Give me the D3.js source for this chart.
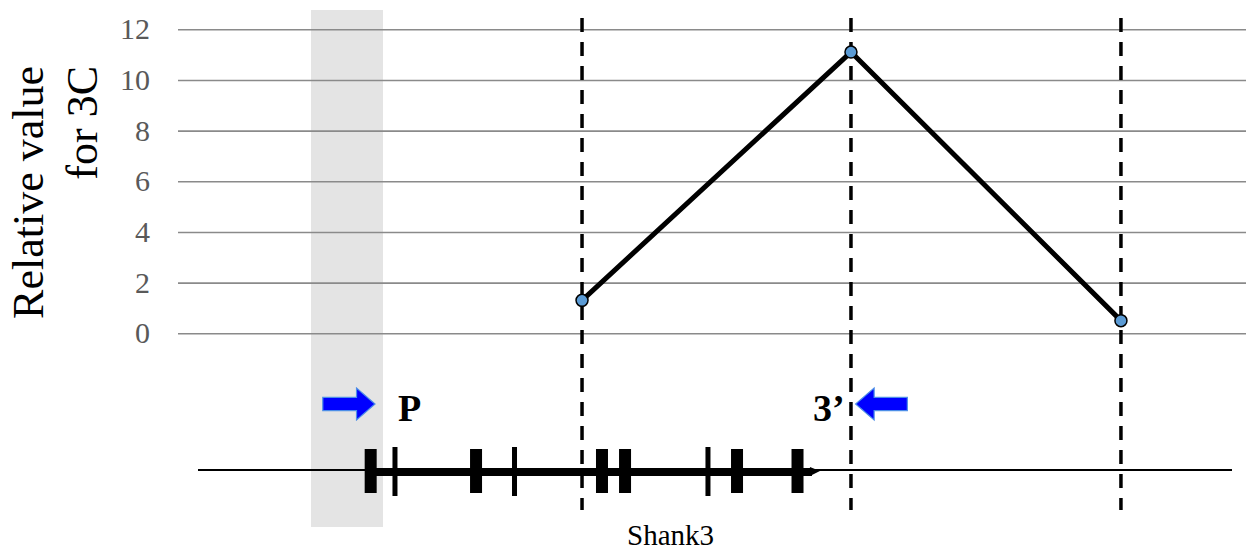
<!DOCTYPE html>
<html><head><meta charset="utf-8">
<script src="https://cdn.jsdelivr.net/npm/d3@7"></script>
<style>body{margin:0;background:#fff} svg{display:block} text{font-family:"Liberation Serif","Times New Roman",serif}</style>
</head><body><svg id="c" width="1246" height="554"></svg>
<script>
// ---- data ----
const yTicks = [0, 2, 4, 6, 8, 10, 12];
const sitePositions = [37.14, 63.15, 89.26];   // locus position (arbitrary units 0-100)
const siteValues = [1.3, 11.1, 0.5];           // relative 3C value
const exonLarge = [16.70, 26.89, 39.07, 41.30, 52.13, 57.98];
const exonSmall = [19.05, 30.61, 49.32];
const geneName = "Shank3";
const geneNamePos = 45.7;
const geneSpan = [16.25, 60.15];
const promoterSpan = [10.93, 17.89];
const primerLabels = ["P", "3’"];
const primerStarts = [12.07, 68.6];            // arrow tail positions
const primerEnds = [17.12, 63.6];              // arrow tip positions
const yTitle = ["Relative value", "for 3C"];

// ---- layout ----
const svg = d3.select("#c");
const x = d3.scaleLinear().domain([0, 100]).range([198, 1232]);
const y = d3.scaleLinear().domain([0, 12]).range([333.3, 29.3]);
const serif = '"Liberation Serif","Times New Roman",serif';

// promoter band
svg.append("rect")
  .attr("x", x(promoterSpan[0])).attr("width", x(promoterSpan[1]) - x(promoterSpan[0]))
  .attr("y", 10).attr("height", 517).attr("fill", "#e4e4e4");

// gridlines + tick labels
const yAxis = d3.axisLeft(y).tickValues(yTicks).tickSize(-(1246 - 178)).tickPadding(28);
const ga = svg.append("g").attr("transform", "translate(178,0)").call(yAxis);
ga.attr("font-family", null).attr("font-size", null);
ga.select(".domain").remove();
ga.selectAll(".tick line").attr("stroke", "#8a8a8a").attr("stroke-width", 1.6);
ga.selectAll(".tick text").style("font-family", serif).style("font-size", "30px")
  .attr("fill", "#595959");

// y title
const tt = svg.append("text").attr("transform", "translate(0,66) rotate(-90)")
  .attr("text-anchor", "end").style("font-family", serif).style("font-size", "44px").attr("fill", "#000");
tt.append("tspan").attr("x", 0).attr("y", 43).text(yTitle[0]);
tt.append("tspan").attr("x", 0).attr("y", 97).text(yTitle[1]);

// gene model
const gy = 470;
svg.append("line").attr("x1", x(0)).attr("x2", x(100)).attr("y1", gy).attr("y2", gy)
  .attr("stroke", "#000").attr("stroke-width", 2.2);
svg.append("line").attr("x1", x(geneSpan[0])).attr("x2", x(geneSpan[1]) - 8)
  .attr("y1", gy + 2).attr("y2", gy + 2).attr("stroke", "#000").attr("stroke-width", 8);
const ge = x(geneSpan[1]);
svg.append("path").attr("d", `M${ge - 10},${gy - 3} L${ge},${gy + 1} L${ge - 10},${gy + 6} Z`).attr("fill", "#000");
svg.selectAll(".exL").data(exonLarge).join("rect")
  .attr("x", d => x(d) - 6).attr("width", 12).attr("y", 449).attr("height", 44).attr("fill", "#000");
svg.selectAll(".exS").data(exonSmall).join("rect")
  .attr("x", d => x(d) - 2.5).attr("width", 5).attr("y", 447).attr("height", 49).attr("fill", "#000");
svg.append("text").attr("x", x(geneNamePos)).attr("y", 545)
  .attr("text-anchor", "middle").style("font-family", serif).style("font-size", "29px").text(geneName);

// primers
primerLabels.forEach((lab, i) => {
  const x0 = x(primerStarts[i]), x1 = x(primerEnds[i]);
  const dir = Math.sign(x1 - x0), cy = 404, hl = 18.5 * dir;
  const p = `M${x0},${cy - 6.7} L${x1 - hl},${cy - 6.7} L${x1 - hl},${cy - 16} L${x1},${cy} L${x1 - hl},${cy + 16} L${x1 - hl},${cy + 6.7} L${x0},${cy + 6.7} Z`;
  svg.append("path").attr("d", p).attr("fill", "#0000ff").attr("stroke", "#4d8ee8").attr("stroke-width", 1.2);
  svg.append("text").attr("x", dir > 0 ? x1 + 23 : x1 - 11).attr("y", 421)
    .attr("text-anchor", dir > 0 ? "start" : "end")
    .style("font-family", serif).style("font-weight", "bold").style("font-size", "38px").text(lab);
});

// dashed site lines
svg.selectAll(".dash").data(sitePositions).join("line")
  .attr("x1", d => x(d)).attr("x2", d => x(d)).attr("y1", 18).attr("y2", 510)
  .attr("stroke", "#000").attr("stroke-width", 3.5).attr("stroke-dasharray", "14,10");

// 3C line + markers
const pts = sitePositions.map((p, i) => [x(p), y(siteValues[i])]);
svg.append("path").attr("d", d3.line()(pts)).attr("fill", "none")
  .attr("stroke", "#000").attr("stroke-width", 5).attr("stroke-linejoin", "round");
svg.selectAll(".pt").data(pts).join("circle")
  .attr("cx", d => d[0]).attr("cy", d => d[1]).attr("r", 6)
  .attr("fill", "#5b9bd5").attr("stroke", "#000").attr("stroke-width", 1.5);
</script></body></html>
